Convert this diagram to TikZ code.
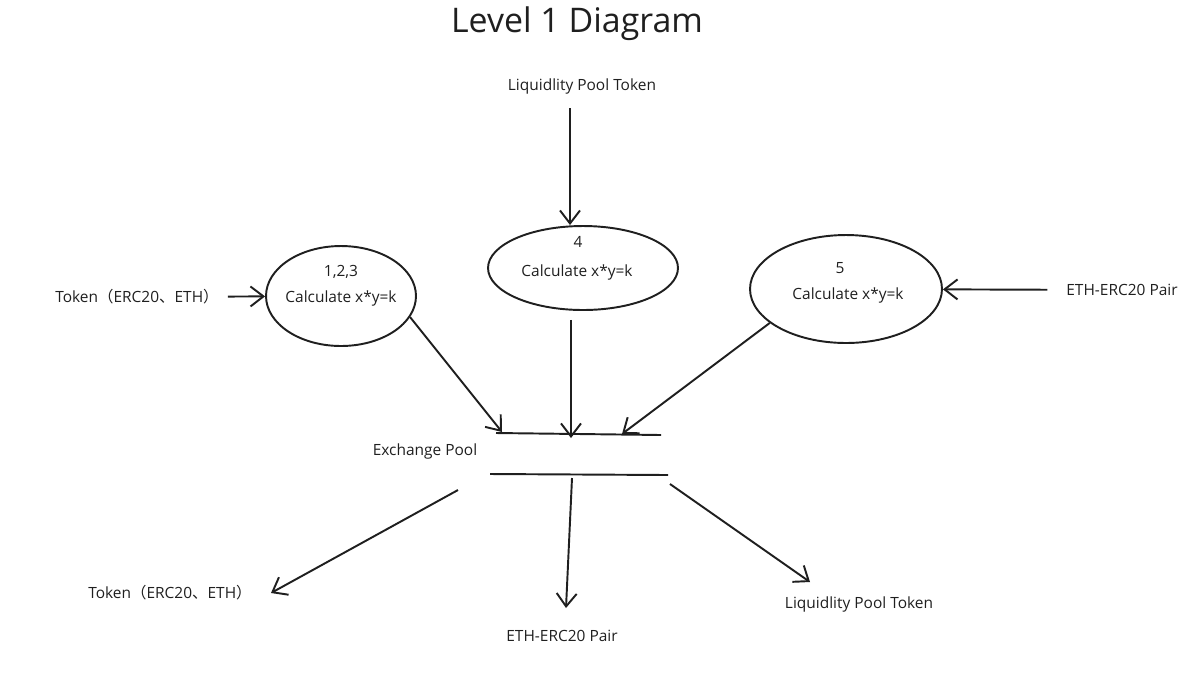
\documentclass[tikz,border=0pt]{standalone}
\usepackage{fontspec}
\setmainfont{Open Sans}
\newfontfamily\cjk{Noto Sans CJK SC}
\usepackage{tikz}
\usetikzlibrary{shapes, positioning, calc, arrows.meta}
\newcommand{\inkcolor}{black!88}

\begin{document}
\begin{tikzpicture}[x=0.02cm, y=-0.02cm]
	\tikzstyle{procc}=[ellipse, draw=\inkcolor, line width=1.1pt, inner sep=0pt]
	\tikzstyle{lbl}=[font=\fontsize{8.8}{10}\selectfont, text=\inkcolor, inner sep=1pt]
	\tikzstyle{flow}=[draw=\inkcolor, line width=1.1pt, -{Straight Barb[length=2.6mm, width=4mm]}]
	\tikzstyle{bar}=[draw=\inkcolor, line width=1.1pt]

	\useasboundingbox (0,0) rectangle (1199,674);

	\node (title) at (577,24) [font=\fontsize{19.3}{23}\selectfont, text=\inkcolor]{Level 1 Diagram};

%%	processes
	\node (e1) at (341,296) [procc, minimum width=3cm, minimum height=2cm]{};
	\node (e2) at (583,268) [procc, minimum width=3.8cm, minimum height=1.68cm]{};
	\node (e3) at (846,289) [procc, minimum width=3.84cm, minimum height=2.16cm]{};

	\node (e1n) at (341,272) [lbl]{1,2,3};
	\node (e1t) at (341,298) [lbl]{Calculate x*y=k};
	\node (e2n) at (578,242) [lbl]{4};
	\node (e2t) at (577,272) [lbl]{Calculate x*y=k};
	\node (e3n) at (840,268) [lbl]{5};
	\node (e3t) at (848,295) [lbl]{Calculate x*y=k};

%%	inputs
	\node (tokin) at (137,297) [lbl]{Token{\cjk（}ERC20{\cjk、}ETH{\cjk）}};
	\node (lpin) at (582,86) [lbl]{Liquidlity Pool Token};
	\node (pairin) at (1122,290) [lbl]{ETH-ERC20 Pair};

	\coordinate (lp0) at (570,108);

	\draw[flow, shorten <=4pt] (tokin) -- (e1);
	\draw[flow] (lp0) -- (e2.north -| lp0);
	\draw[flow, shorten <=0.34cm] (pairin) -- (e3);

%%	store
	\node (pool) at (425,451) [lbl]{Exchange Pool};

	\coordinate (pt1) at (496,433);
	\coordinate (pt2) at (661,435);
	\coordinate (pb1) at (490,474);
	\coordinate (pb2) at (668,475);

	\draw[bar] (pt1) -- (pt2);
	\draw[bar] (pb1) -- (pb2);

	\coordinate (in1) at (502,432);
	\coordinate (in2) at (571,438);
	\coordinate (in3) at (622,434);

	\draw[flow] (e1.-17) -- (in1);
	\draw[flow, shorten <=5pt] (e2.south -| in2) -- (in2);
	\draw[flow] (e3.-156) -- (in3);

%%	outputs
	\node (tokout) at (170,593) [lbl]{Token{\cjk（}ERC20{\cjk、}ETH{\cjk）}};
	\node (pairout) at (562,636) [lbl]{ETH-ERC20 Pair};
	\node (lpout) at (859,604) [lbl]{Liquidlity Pool Token};

	\coordinate (out1) at (458,490);
	\coordinate (out2) at (572,478);
	\coordinate (out3) at (670,484);
	\coordinate (end1) at (271,593);
	\coordinate (end2) at (566,608);
	\coordinate (end3) at (810,582);

	\draw[flow] (out1) -- (end1);
	\draw[flow] (out2) -- (end2);
	\draw[flow] (out3) -- (end3);
\end{tikzpicture}
\end{document}
